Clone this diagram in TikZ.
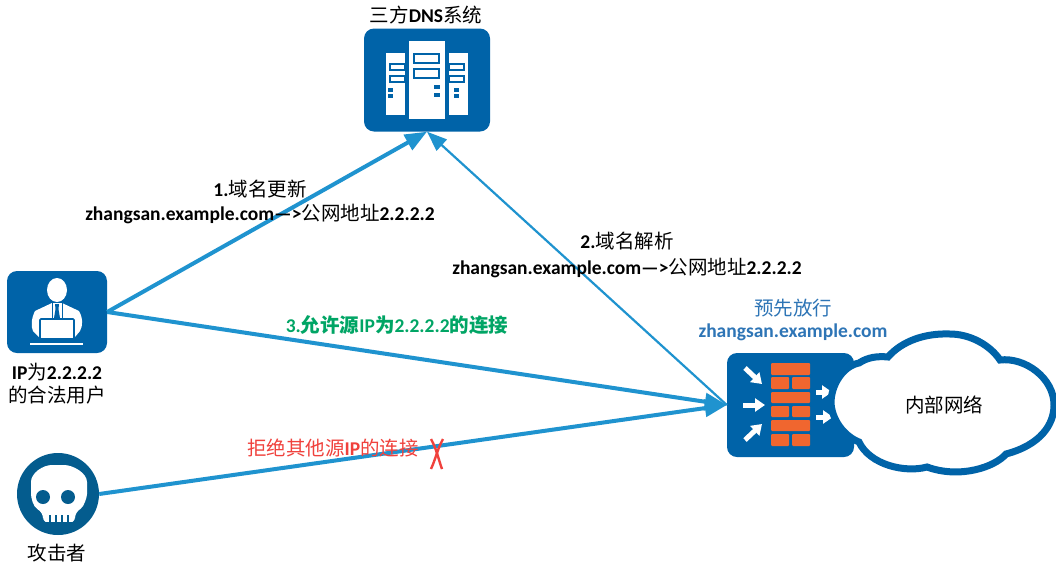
\documentclass[tikz,border=0pt]{standalone}
\usepackage{fontspec}
\setmainfont{Carlito}
\newfontfamily\cjk{Noto Sans CJK SC}
\usetikzlibrary{arrows.meta}
\definecolor{boxblue}{HTML}{0063A8}
\definecolor{linkblue}{HTML}{1F93CF}
\definecolor{skullblue}{HTML}{045C8E}
\definecolor{brick}{HTML}{F0662F}
\definecolor{passgreen}{HTML}{00A565}
\definecolor{denyred}{HTML}{F0413C}
\definecolor{notegreen}{HTML}{2E75B6}
\tikzset{
  iconbox/.style={fill=boxblue,rounded corners=10,inner sep=0,draw=none},
  thicklink/.style={draw=linkblue,line width=4,-{Triangle[width=17,length=22]}},
  thinlink/.style={draw=linkblue,line width=2.2,-{Triangle[width=15,length=20]}},
  lbl/.style={inner sep=0,font=\fontsize{19.5}{23}\selectfont,text=black,align=center},
  whitearrow/.style={draw=white,line width=5,-{Triangle[width=13,length=10]}},
  brickpart/.style={fill=brick,rounded corners=1}
}
\begin{document}
\begin{tikzpicture}[x=1pt,y=-1pt]
\useasboundingbox[fill=white] (0,0) rectangle (1056,568);
% icon boxes
\node[iconbox,minimum width=126,minimum height=103] (dns) at (427,80) {};
\node[iconbox,minimum width=100,minimum height=82] (user) at (57,312) {};
\node[circle,fill=skullblue,minimum size=82,inner sep=0] (skull) at (58,494) {};
\node[iconbox,minimum width=127,minimum height=104] (fw) at (790.5,405) {};
% connectors
\draw[thicklink] (user.east) -- (dns.south);
\draw[thinlink] (fw.west) -- (dns.south);
\draw[thicklink] (user.east) -- (fw.west);
\draw[thicklink] (skull.east) -- (fw.west);
% servers
\fill[white] (409,41) rectangle (445,119);
\fill[white] (386,53) rectangle (405,115);
\fill[white] (449,53) rectangle (468,115);
\foreach \y in {54,69}{\draw[boxblue,line width=1.6,fill=white] (414,\y) rectangle (439,\y+9);}
\foreach \y in {64,76}{\draw[boxblue,line width=1.6] (390,\y) rectangle (405,\y+6);
  \draw[boxblue,line width=1.6] (449,\y) rectangle (464,\y+6);}
\foreach \y in {85,93}{\fill[boxblue] (434,\y) rectangle (440,\y+4);}
\foreach \y in {88,94}{\fill[boxblue] (388,\y) rectangle (393,\y+3.5);
  \fill[boxblue] (454,\y) rectangle (459,\y+3.5);}
% user
\fill[white] (57,290) ellipse (10 and 12);
\fill[white] (52,303) -- (35,311) .. controls (31,319) and (31,327) .. (33,331) -- (39,337) -- (75,337) -- (80,331) .. controls (83,326) and (83,318) .. (79,311) -- (62,303) -- cycle;
\draw[boxblue,line width=1] (52,303) -- (52,318) (62,303) -- (62,318);
\fill[boxblue] (55,304) -- (59,304) -- (58.5,309) -- (60,318) -- (54,318) -- (55.5,309) -- cycle;
\draw[boxblue,line width=1.6,fill=white,rounded corners=1] (40,319) rectangle (74,339);
\fill[white] (30,343) rectangle (83,345);
% skull
\fill[white,rounded corners=6] (43,523) -- (43,512) .. controls (33,507) and (31,497) .. (31,488) .. controls (31,473) and (43,465) .. (58,465) .. controls (73,465) and (87,473) .. (87,488) .. controls (87,497) and (84,507) .. (75,512) -- (75,523) -- cycle;
\fill[skullblue] (43,497) circle (7) (68,497) circle (7);
\foreach \x in {49,55,61,67}{\fill[skullblue] (\x,515) rectangle (\x+2,523);}
\fill[skullblue] (40,522) rectangle (78,526);
% firewall
\foreach \y/\h in {363/12,392/11,420/11}{\path[brickpart] (771,\y) rectangle (810,\y+\h);}
\foreach \y/\h in {377/12,406/11,434/12}{\path[brickpart] (771,\y) rectangle (789,\y+\h);\path[brickpart] (792,\y) rectangle (810,\y+\h);}
\draw[whitearrow] (745,368) -- (762,384);
\draw[whitearrow] (743,405) -- (765,405);
\draw[whitearrow] (745,440) -- (762,424);
\draw[whitearrow] (816,392) -- (832,392);
\draw[whitearrow] (816,417) -- (833,417);
% cloud
\draw[draw=boxblue,line width=7,fill=white] (831,403)
  .. controls (831,385) and (843,366) .. (859,363)
  .. controls (868,357) and (878,356) .. (888,357)
  .. controls (902,341) and (925,333) .. (950,334)
  .. controls (970,334) and (990,345) .. (1000,360)
  .. controls (1025,357) and (1054,378) .. (1054,405)
  .. controls (1054,425) and (1040,445) .. (1006,454)
  .. controls (995,467) and (960,479) .. (927,467)
  .. controls (905,473) and (870,465) .. (859,442)
  .. controls (844,436) and (832,420) .. (831,403) -- cycle;
% deny X
\draw[denyred,line width=2.4] (431,439) .. controls (437,450) and (438,458) .. (442,469);
\draw[denyred,line width=2.4] (443,439) .. controls (437,450) and (436,458) .. (431,469);
% labels
\node[lbl] (t1) at (426,15) {{\cjk 三方}\textbf{DNS}{\cjk 系统}};
\node[lbl] (t2) at (260,189) {\textbf{1.}{\cjk 域名更新}};
\node[lbl] (t3) at (260,214) {\textbf{zhangsan.example.com—>}{\cjk 公网地址}\textbf{2.2.2.2}};
\node[lbl] (t4) at (627,241) {\textbf{2.}{\cjk 域名解析}};
\node[lbl] (t5) at (627,268) {\textbf{zhangsan.example.com—>}{\cjk 公网地址}\textbf{2.2.2.2}};
\node[lbl,text=passgreen] (t6) at (397,325) {\textbf{3.{\cjk 允许源}IP{\cjk 为}2.2.2.2{\cjk 的连接}}};
\node[lbl,text=notegreen] (t7) at (793,308) {\cjk 预先放行};
\node[lbl,text=notegreen,font=\fontsize{19.5}{23}\selectfont\bfseries] (t8) at (793,332) {zhangsan.example.com};
\node[lbl] (t9) at (57,372) {\textbf{IP}{\cjk 为}\textbf{2.2.2.2}};
\node[lbl] (t10) at (57,395) {\cjk 的合法用户};
\node[lbl] (t11) at (57,553) {\cjk 攻击者};
\node[lbl] (t12) at (944,405) {\cjk 内部网络};
\node[lbl,text=denyred] (t13) at (333,448) {{\cjk 拒绝其他源}\textbf{IP}{\cjk 的连接}};
\end{tikzpicture}
\end{document}
